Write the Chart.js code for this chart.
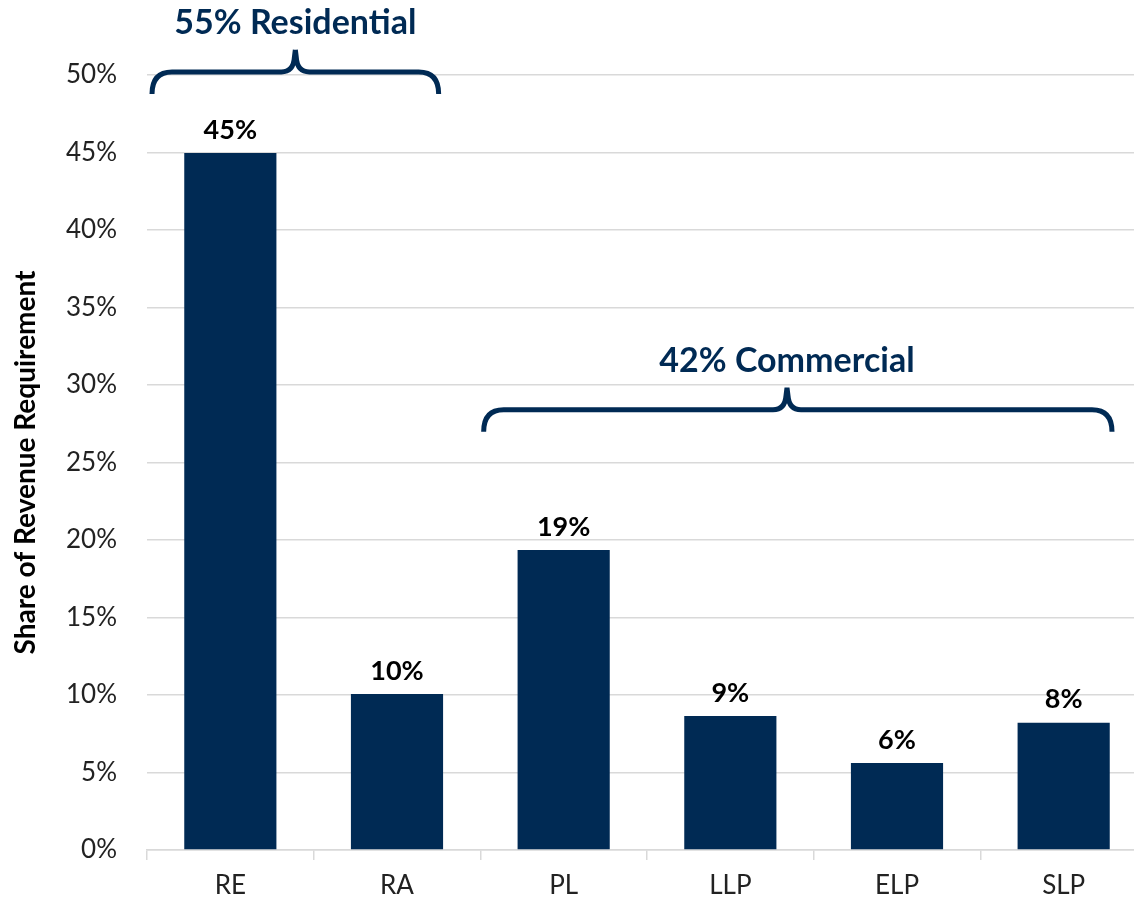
<!DOCTYPE html>
<html>
<head>
<meta charset="utf-8">
<script src="https://cdn.jsdelivr.net/npm/chart.js@4.4.1/dist/chart.umd.min.js"></script>
<style>
html,body{margin:0;padding:0;background:#fff;overflow:hidden;}
#wrap{position:relative;width:1147px;height:902px;}
</style>
</head>
<body>
<div id="wrap"><canvas id="c"></canvas></div>
<script>
const categories = ["RE", "RA", "PL", "LLP", "ELP", "SLP"];
const shares = [44.97, 10.06, 19.35, 8.65, 5.61, 8.21];
const yTicks = [0, 5, 10, 15, 20, 25, 30, 35, 40, 45, 50];
const groupLabels = ["55% Residential", "42% Commercial"];
const groupFrom = [-0.47, 1.52];
const groupTo = [1.25, 5.29];
const groupTip = [0.39, 3.34];
const groupLevel = [50.2, 28.4];

const NAVY = '#002A54';
const FONT = 'Lato, "Open Sans", sans-serif';

const barLabels = {
  id: 'barLabels',
  afterDatasetsDraw(chart) {
    const ctx = chart.ctx;
    const meta = chart.getDatasetMeta(0);
    ctx.save();
    ctx.fillStyle = '#000';
    ctx.font = 'bold 27px ' + FONT;
    ctx.textAlign = 'center';
    ctx.textBaseline = 'middle';
    meta.data.forEach((bar, i) => {
      ctx.fillText(Math.round(shares[i]) + '%', bar.x, bar.y - 23);
    });
    ctx.restore();
  }
};

const braces = {
  id: 'braces',
  afterDraw(chart) {
    const ctx = chart.ctx;
    const xs = chart.scales.x, ys = chart.scales.y;
    ctx.save();
    ctx.strokeStyle = NAVY;
    ctx.lineWidth = 5;
    ctx.lineCap = 'butt';
    ctx.lineJoin = 'round';
    for (let g = 0; g < groupLabels.length; g++) {
      const x0 = xs.getPixelForValue(groupFrom[g]);
      const x1 = xs.getPixelForValue(groupTo[g]);
      const xm = xs.getPixelForValue(groupTip[g]);
      const yh = ys.getPixelForValue(groupLevel[g]);
      const yb = yh + 22, yt = yh - 22;
      const r = 20, r2 = 14;
      ctx.beginPath();
      ctx.moveTo(x0, yb);
      ctx.quadraticCurveTo(x0, yh, x0 + r, yh);
      ctx.lineTo(xm - r2, yh);
      ctx.quadraticCurveTo(xm - 2, yh, xm - 1, yt + 8);
      ctx.quadraticCurveTo(xm, yt, xm, yt);
      ctx.moveTo(xm, yt);
      ctx.quadraticCurveTo(xm, yt, xm + 1, yt + 8);
      ctx.quadraticCurveTo(xm + 2, yh, xm + r2, yh);
      ctx.lineTo(x1 - r, yh);
      ctx.quadraticCurveTo(x1, yh, x1, yb);
      ctx.stroke();
      ctx.fillStyle = NAVY;
      ctx.font = 'bold 34px ' + FONT;
      ctx.textAlign = 'center';
      ctx.textBaseline = 'middle';
      ctx.fillText(groupLabels[g], xm, yt - 27);
    }
    ctx.restore();
  }
};

new Chart(document.getElementById('c'), {
  type: 'bar',
  data: {
    labels: categories,
    datasets: [{
      data: shares,
      backgroundColor: NAVY,
      borderWidth: 0,
      barPercentage: 0.553,
      categoryPercentage: 1.0
    }]
  },
  options: {
    responsive: true,
    maintainAspectRatio: false,
    animation: false,
    devicePixelRatio: 1,
    layout: { padding: { top: 75, left: 0, right: 0, bottom: 0 } },
    plugins: { legend: { display: false }, tooltip: { enabled: false } },
    scales: {
      x: {
        offset: true,
        afterFit(axis) { axis.height = 52; },
        grid: { offset: true, drawOnChartArea: false, drawTicks: true, tickLength: 10, color: '#d9d9d9', lineWidth: 1.5 },
        border: { display: true, color: '#d9d9d9', width: 1.5 },
        ticks: { color: '#222', font: { family: FONT, size: 26 }, padding: 10 }
      },
      y: {
        min: 0, max: 50,
        afterFit(axis) { axis.width = 147; },
        afterBuildTicks(axis) { axis.ticks = yTicks.map(v => ({ value: v })); },
        grid: { color: '#d9d9d9', lineWidth: 1.5, drawTicks: false },
        border: { display: false },
        ticks: { color: '#222', font: { family: FONT, size: 26 }, padding: 30, callback: v => v + '%' },
        title: { display: true, text: 'Share of Revenue Requirement', color: '#000', font: { family: FONT, size: 28, weight: 'bold' }, padding: { top: 9, bottom: 0 } }
      }
    }
  },
  plugins: [barLabels, braces]
});
</script>
</body>
</html>
